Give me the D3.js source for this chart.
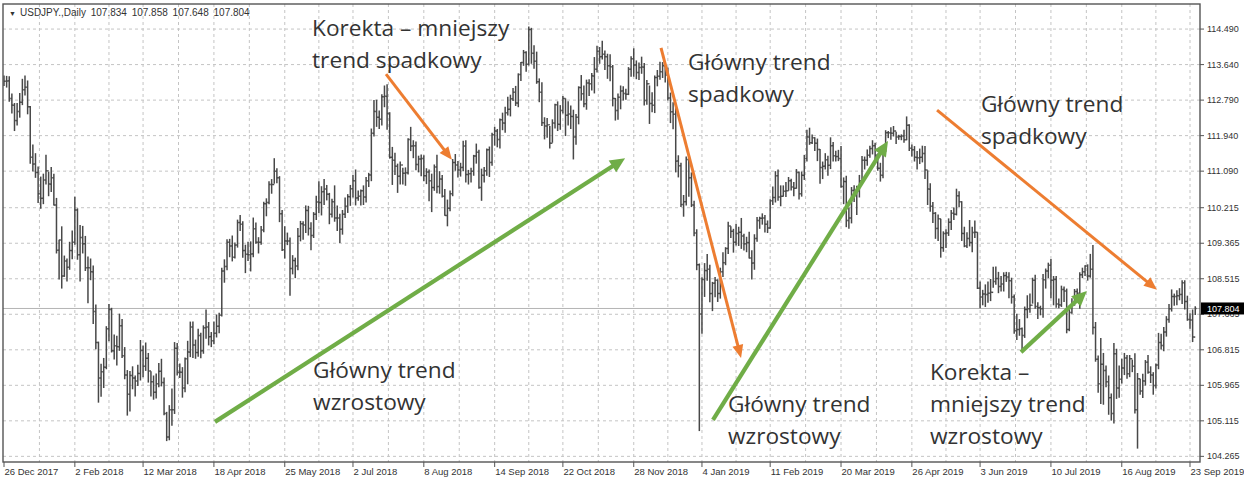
<!DOCTYPE html>
<html>
<head>
<meta charset="utf-8">
<script src="https://d3js.org/d3.v7.min.js"></script>
<style type="text/css">
  body { margin:0; background:#fff; }
  .axis text { font-family: "Liberation Sans", Arial, sans-serif; fill:#333; }
  .note { font-family: "Open Sans", sans-serif; font-size:22.7px; fill:#333; }
  .grid { stroke:#c4c4c4; stroke-width:1; stroke-dasharray:3,3; }
</style>
</head>
<body>
<svg id="visRegion" width="1244" height="485"></svg>
<script>
// USDJPY daily bars, 26 Dec 2017 .. 25 Sep 2019 (one value per bar)
var hi = [
  113.38,113.37,113.36,112.95,
  112.72,112.72,112.96,113.30,113.38,113.26,112.65,111.73,111.52,111.20,110.96,111.03,111.48,111.08,111.19,111.03,110.45,109.45,109.77,109.07,109.00,109.40,
  109.67,110.48,110.20,109.80,109.78,109.54,109.05,109.00,108.83,107.90,107.01,106.48,106.62,107.38,107.91,107.82,107.18,107.15,107.68,107.55,
  106.88,106.33,106.31,106.42,106.20,106.46,107.05,106.92,106.99,106.74,106.30,106.20,106.25,106.50,106.60,106.15,105.33,105.49,105.89,107.00,106.98,106.49,
  106.40,106.63,107.03,107.49,107.49,107.06,107.32,107.22,107.40,107.78,107.48,107.24,107.49,107.66,107.70,108.78,108.98,109.46,109.47,109.55,109.38,
  109.93,110.04,109.89,109.33,109.40,109.41,109.98,109.86,109.51,109.78,110.36,110.44,110.85,110.90,111.40,111.16,110.97,110.16,109.77,109.62,109.50,109.08,109.02,
  109.73,109.90,109.89,110.27,110.26,109.87,110.11,110.50,110.85,110.73,110.90,110.76,110.57,110.43,110.75,110.27,110.07,110.16,110.46,110.54,110.76,
  111.00,111.13,110.63,110.65,110.75,110.95,111.05,112.11,112.79,112.80,112.54,112.93,113.14,113.17,112.50,111.67,111.53,111.27,111.32,111.17,111.18,111.88,
  112.15,111.83,111.80,111.46,111.49,111.47,111.16,111.13,111.03,111.25,111.48,111.09,111.00,110.66,110.41,110.63,111.38,111.50,111.33,111.29,111.82,111.83,111.12,
  111.17,111.48,111.75,111.60,111.15,111.19,111.63,111.68,112.01,112.15,112.10,112.35,112.49,112.63,112.87,112.92,113.08,113.13,113.43,113.70,
  113.99,113.96,114.55,114.52,114.10,113.95,113.31,113.22,112.38,112.36,112.17,112.33,112.70,112.76,112.67,112.89,112.83,112.76,112.66,112.56,112.46,113.12,113.39,
  113.14,113.28,113.29,113.44,113.82,114.09,114.06,114.21,113.98,113.90,113.89,113.63,112.84,112.95,113.14,113.12,113.06,113.58,113.84,114.03,113.74,113.69,
  113.83,113.68,113.27,113.14,112.98,113.38,113.51,113.71,113.70,113.64,113.57,112.97,112.74,112.61,111.47,111.29,110.52,111.44,111.43,111.06,110.38,
  109.70,108.88,108.55,108.89,109.11,108.85,108.44,108.56,108.50,108.78,109.15,109.27,109.88,109.77,109.71,109.83,109.76,109.97,109.59,109.52,109.64,109.20,
  109.58,109.99,110.00,110.08,110.04,109.91,110.42,110.72,111.09,111.13,110.75,110.75,110.83,110.95,110.91,110.83,111.14,111.08,111.08,111.48,
  112.08,112.13,111.97,111.90,111.87,111.62,111.32,111.52,111.46,111.90,111.79,111.58,111.60,111.69,110.94,110.98,110.22,110.71,110.75,110.74,111.00,
  111.45,111.44,111.61,111.70,111.83,111.77,111.51,111.29,111.63,112.07,112.05,112.14,112.17,112.03,111.96,111.97,112.08,112.40,112.21,111.73,111.69,111.57,
  111.63,111.70,111.69,111.11,110.80,110.35,110.11,110.05,109.95,109.65,109.70,109.96,110.16,110.22,110.67,110.61,110.37,109.76,109.63,109.92,109.76,109.91,109.63,
  108.45,108.25,108.38,108.45,108.51,108.80,108.81,108.68,108.58,108.67,108.68,108.67,108.54,108.14,107.68,107.55,107.35,107.85,108.12,108.16,
  108.54,108.61,107.95,107.87,108.63,108.76,108.90,108.99,108.58,108.58,108.04,108.35,108.33,108.28,107.79,108.05,108.27,108.28,108.67,108.78,108.84,108.86,109.11,
  109.32,107.48,106.68,107.10,106.74,106.44,106.20,105.77,106.98,106.84,106.44,106.60,106.74,106.69,106.69,106.58,106.73,106.26,106.12,106.24,106.57,106.69,
  106.42,106.28,106.49,107.22,107.20,107.36,107.62,107.91,108.26,108.16,108.24,108.29,108.48,108.48,108.11,107.69,107.78,107.858
];
var lo = [
  113.13,113.09,112.75,112.47,
  112.05,112.18,112.37,112.67,112.90,112.45,111.27,111.08,110.93,110.33,110.19,110.30,110.77,110.49,110.59,110.27,109.12,108.50,108.28,108.56,108.45,108.73,
  108.98,109.33,108.97,108.45,109.12,108.70,107.93,108.48,107.43,106.83,105.55,105.69,105.90,106.35,107.02,106.75,106.58,106.44,106.79,106.62,
  106.11,105.24,105.34,105.87,105.70,105.95,106.08,106.16,106.31,106.03,105.70,105.62,105.65,105.92,105.94,105.25,104.63,104.65,105.00,105.28,106.20,106.14,
  105.67,105.80,105.99,106.64,106.62,106.60,106.65,106.61,106.72,107.08,106.92,106.88,106.95,107.11,107.21,107.61,108.42,108.72,109.03,108.93,109.00,
  109.26,109.66,109.02,108.65,108.94,108.69,109.03,109.35,109.12,109.33,109.63,110.01,110.30,110.55,110.79,110.80,109.87,109.18,109.00,109.32,108.11,108.62,108.53,
  108.72,109.41,109.45,109.61,109.55,109.20,109.49,109.92,110.08,110.03,110.28,110.39,109.82,109.98,109.88,109.66,109.37,109.57,109.97,110.09,110.26,
  110.46,110.27,110.38,110.27,110.28,110.34,110.71,110.85,111.92,112.15,112.10,112.18,112.62,112.08,111.39,110.76,111.00,110.57,110.77,110.77,110.74,111.01,
  111.57,111.40,111.11,111.06,110.97,110.85,110.78,110.37,110.11,110.62,110.56,110.55,110.46,110.02,109.77,110.13,110.49,111.10,110.94,110.96,111.09,110.82,110.77,
  110.82,110.98,111.27,110.67,110.38,110.82,110.98,110.95,111.22,111.70,111.66,111.63,112.07,112.01,112.42,112.40,112.77,112.65,112.62,113.25,
  113.61,113.47,113.62,113.66,113.54,113.18,112.74,112.17,111.85,111.89,111.63,111.77,112.11,112.05,112.08,112.47,111.93,112.18,112.10,111.37,111.72,112.21,112.78,
  112.62,112.56,112.89,113.02,112.95,113.45,113.66,113.76,113.51,113.30,113.24,112.64,112.30,112.32,112.57,112.78,112.80,112.91,113.35,113.35,113.29,113.27,
  113.42,112.66,112.68,112.22,112.50,112.48,113.12,113.28,113.32,113.21,112.78,112.24,112.09,111.06,110.94,110.23,110.00,110.27,110.48,110.23,109.53,
  108.72,104.87,107.20,108.08,108.47,107.95,107.74,108.07,107.96,108.04,108.56,108.84,109.11,109.49,109.14,109.31,109.30,109.23,109.19,109.15,109.00,108.50,
  108.73,109.40,109.71,109.81,109.62,109.61,109.71,110.28,110.34,110.38,110.25,110.48,110.47,110.62,110.63,110.49,110.67,110.41,110.48,110.88,
  111.32,111.72,111.74,111.57,111.33,110.79,110.90,111.13,110.98,111.14,111.32,111.32,111.33,110.69,110.30,109.75,109.71,109.84,110.35,110.04,110.46,
  110.84,111.13,111.22,111.41,111.49,111.38,111.10,110.84,110.92,111.55,111.88,111.84,111.92,111.74,111.84,111.83,111.77,111.83,111.57,111.44,111.32,111.13,
  111.26,111.30,110.90,110.28,110.12,109.85,109.47,109.42,109.02,109.16,109.25,109.54,109.68,109.92,110.03,110.23,109.42,109.27,109.25,109.29,109.15,109.49,108.27,
  107.81,107.88,107.84,107.94,107.98,108.30,108.37,108.17,108.21,108.21,108.44,108.05,107.92,107.20,107.05,107.15,106.78,107.10,107.57,107.70,
  107.92,107.80,107.55,107.64,107.58,108.28,108.53,108.05,107.88,107.82,107.81,107.84,107.96,107.21,107.26,107.68,107.87,107.96,107.80,108.53,108.58,108.47,108.54,
  107.18,106.53,105.79,105.52,105.50,105.92,105.26,105.12,105.05,105.64,105.67,106.01,106.21,106.12,106.16,106.28,105.29,104.45,105.74,105.66,105.96,106.24,
  106.02,105.74,105.89,106.35,106.82,106.78,107.13,107.46,107.73,107.87,107.88,108.00,107.91,107.78,107.51,107.32,107.00,107.648
];
var cl = [
  113.24,113.25,112.83,112.67,
  112.30,112.52,112.74,113.04,113.10,112.63,111.42,111.26,111.06,110.55,110.44,110.88,111.10,110.78,110.93,110.28,109.20,109.44,108.58,108.94,108.79,109.19,
  109.39,110.16,109.09,109.50,109.35,108.78,108.78,108.68,107.73,106.99,106.14,106.29,106.40,107.32,107.78,106.79,106.91,106.89,107.39,106.67,
  106.21,105.75,106.20,106.14,106.07,106.25,106.80,106.42,106.61,106.31,106.05,105.80,106.00,106.30,106.03,105.29,104.73,105.38,105.38,106.85,106.27,106.28,
  105.90,106.60,106.76,107.36,106.93,106.75,107.16,106.79,107.34,107.36,107.13,107.03,107.21,107.38,107.64,108.70,108.81,109.39,109.30,109.03,109.32,
  109.86,109.82,109.19,109.10,109.09,109.11,109.71,109.39,109.39,109.68,110.31,110.34,110.77,110.77,111.09,110.93,110.07,109.21,109.42,109.42,108.76,108.95,108.82,
  109.53,109.83,109.80,110.15,109.72,109.55,110.06,110.35,110.34,110.60,110.66,110.54,110.06,110.36,109.97,109.97,109.70,110.06,110.25,110.48,110.67,
  110.86,110.45,110.49,110.62,110.47,110.86,111.00,112.00,112.52,112.38,112.33,112.87,112.88,112.47,111.42,111.35,111.21,110.97,111.24,111.04,111.05,111.85,
  111.69,111.70,111.25,111.38,111.39,110.98,111.07,110.86,110.70,111.19,110.72,110.90,110.49,110.03,110.20,110.55,111.30,111.24,111.12,111.18,111.69,111.01,111.03,
  111.09,111.45,111.54,110.70,110.99,111.10,111.60,111.30,111.96,112.05,111.85,112.32,112.24,112.49,112.57,112.82,112.98,112.72,113.40,113.69,
  113.93,113.65,114.48,113.91,113.72,113.23,112.98,112.25,112.17,112.20,111.76,112.24,112.68,112.21,112.54,112.83,112.43,112.46,112.40,111.91,112.38,113.09,112.94,
  112.70,113.20,113.18,113.37,113.53,113.96,113.83,113.89,113.83,113.61,113.59,112.83,112.54,112.86,113.01,112.95,112.93,113.53,113.78,113.63,113.45,113.57,
  113.58,112.78,113.18,112.71,112.67,113.33,113.36,113.47,113.61,113.39,112.84,112.51,112.45,111.33,111.22,110.29,110.36,111.37,110.93,110.28,109.61,
  108.85,107.67,108.50,108.71,108.74,108.16,108.41,108.48,108.16,108.68,108.90,109.24,109.78,109.65,109.39,109.60,109.63,109.54,109.35,109.38,109.01,108.89,
  109.48,109.91,109.96,109.97,109.82,109.73,110.38,110.46,110.98,110.47,110.49,110.61,110.62,110.86,110.71,110.68,111.06,110.55,110.99,111.39,
  111.91,111.77,111.89,111.76,111.61,111.18,111.21,111.36,111.23,111.70,111.46,111.44,111.39,110.72,110.84,109.91,109.97,110.63,110.51,110.62,110.86,
  111.35,111.35,111.47,111.63,111.70,111.47,111.16,110.99,111.62,112.01,112.01,112.00,112.05,111.91,111.92,111.93,111.84,112.19,111.64,111.60,111.42,111.41,
  111.42,111.51,111.12,110.66,110.25,110.08,109.72,109.95,109.26,109.60,109.61,109.87,110.08,110.06,110.50,110.36,109.60,109.30,109.48,109.38,109.62,109.63,108.29,
  108.08,108.15,108.14,108.17,108.19,108.45,108.52,108.33,108.39,108.59,108.56,108.47,108.08,107.27,107.30,107.32,107.16,107.78,107.80,107.88,
  108.48,107.85,107.82,107.80,108.49,108.70,108.84,108.48,108.50,107.91,107.89,108.26,108.22,107.30,107.71,107.93,108.21,108.17,108.61,108.68,108.82,108.58,108.74,
  107.35,106.59,106.00,106.47,106.32,106.05,105.67,105.29,106.72,105.90,106.11,106.38,106.62,106.24,106.60,106.42,105.38,106.12,105.83,106.07,106.52,106.28,
  106.21,105.96,106.45,106.99,106.92,107.24,107.54,107.80,108.09,108.09,108.11,108.14,108.42,107.97,107.54,107.53,107.12,107.804
];

// price scale labels (right) and time labels (bottom, bar index)
var priceTicks = [114.490,113.640,112.790,111.940,111.090,110.215,109.365,108.515,107.665,106.815,105.965,105.115,104.265];
var dateLabels = ["26 Dec 2017","2 Feb 2018","12 Mar 2018","18 Apr 2018","25 May 2018","2 Jul 2018","8 Aug 2018","14 Sep 2018","22 Oct 2018",
                  "28 Nov 2018","4 Jan 2019","11 Feb 2019","20 Mar 2019","26 Apr 2019","3 Jun 2019","10 Jul 2019","16 Aug 2019","23 Sep 2019"];
var dateIdx = [0,27,53,80,107,133,160,187,213,240,266,292,319,346,372,399,426,452];
var lastPrice = 107.804;
var header = "USDJPY.,Daily  107.834 107.858 107.648 107.804";

// trend arrows: [bar index, price] start -> end
var orangeFrom = [[145.6,113.41],[250.4,114.04],[355.6,112.55]];
var orangeTo   = [[170.7,111.36],[280.9,106.62],[439.4,108.25]];
var greenFrom  = [[80.4,105.09],[270.2,105.14],[387.6,106.76]];
var greenTo    = [[236.7,111.40],[336.9,111.81],[412.7,108.22]];

// text notes: anchor [bar index, price] of first line
var noteAt = [[117.4,114.32],[260.7,113.51],[372.3,112.50],[117.8,106.14],[275.9,105.33],[352.9,106.09]];
var noteLines = [
  ["Korekta – mniejszy","trend spadkowy"],
  ["Główny trend","spadkowy"],
  ["Główny trend","spadkowy"],
  ["Główny trend","wzrostowy"],
  ["Główny trend","wzrostowy"],
  ["Korekta –","mniejszy trend","wzrostowy"]
];

//layout
var plot = {left:3, top:4, right:1200, bottom:462};
var svg = d3.select('#visRegion');
svg.append('rect').attr('width',1244).attr('height',485).attr('fill','#fff');

var x = d3.scaleLinear().domain([0,452]).range([4,1190]);
var y = d3.scaleLinear().domain([104.13,115.09]).range([plot.bottom,plot.top]);

//grid
var grid = svg.append('g');
grid.selectAll('line.h').data(priceTicks).enter().append('line')
    .attr('class','grid')
    .attr('x1',plot.left).attr('x2',plot.right)
    .attr('y1',function(d){return y(d);}).attr('y2',function(d){return y(d);});
var vgrid = [];
dateIdx.forEach(function(d,i){
    vgrid.push(d);
    if(i < dateIdx.length-1) vgrid.push((d+dateIdx[i+1])/2);
});
grid.selectAll('line.v').data(vgrid.slice(1)).enter().append('line')
    .attr('class','grid')
    .attr('y1',plot.top).attr('y2',plot.bottom)
    .attr('x1',function(d){return x(d);}).attr('x2',function(d){return x(d);});

//current price line
svg.append('line')
    .attr('x1',plot.left).attr('x2',plot.right)
    .attr('y1',y(lastPrice)).attr('y2',y(lastPrice))
    .attr('stroke','#b4b4b4').attr('stroke-width',1);

//bars
var bars = svg.append('g').attr('stroke','#484848').attr('stroke-width',1.5);
var idx = d3.range(hi.length);
bars.selectAll('line.hl').data(idx).enter().append('line')
    .attr('x1',function(i){return x(i);}).attr('x2',function(i){return x(i);})
    .attr('y1',function(i){return y(hi[i]);}).attr('y2',function(i){return y(lo[i]);});
bars.selectAll('line.op').data(idx.slice(1)).enter().append('line')
    .attr('x1',function(i){return x(i)-1.3;}).attr('x2',function(i){return x(i);})
    .attr('y1',function(i){return y(cl[i-1]);}).attr('y2',function(i){return y(cl[i-1]);});
bars.selectAll('line.cl').data(idx).enter().append('line')
    .attr('x1',function(i){return x(i);}).attr('x2',function(i){return x(i)+1.3;})
    .attr('y1',function(i){return y(cl[i]);}).attr('y2',function(i){return y(cl[i]);});

//frame
svg.append('rect')
    .attr('x',plot.left).attr('y',plot.top)
    .attr('width',plot.right-plot.left).attr('height',plot.bottom-plot.top)
    .attr('fill','none').attr('stroke','#555').attr('stroke-width',1.4);

//right price axis
var ax = svg.append('g').attr('class','axis');
ax.selectAll('line.t').data(priceTicks).enter().append('line')
    .attr('x1',plot.right).attr('x2',plot.right+4)
    .attr('y1',function(d){return y(d);}).attr('y2',function(d){return y(d);})
    .attr('stroke','#555');
ax.selectAll('text.p').data(priceTicks).enter().append('text')
    .attr('x',plot.right+7).attr('y',function(d){return y(d)+3;})
    .style('font-size','9px')
    .text(d3.format('.3f'));
ax.append('rect')
    .attr('x',plot.right+1).attr('y',y(lastPrice)-6)
    .attr('width',1244-plot.right).attr('height',12).attr('fill','#000');
ax.append('text')
    .attr('x',plot.right+7).attr('y',y(lastPrice)+3.5)
    .style('font-size','9px').style('fill','#fff')
    .text(d3.format('.3f')(lastPrice));

//bottom time axis
ax.selectAll('line.d').data(dateIdx).enter().append('line')
    .attr('x1',function(d){return x(d);}).attr('x2',function(d){return x(d);})
    .attr('y1',plot.bottom).attr('y2',plot.bottom+5)
    .attr('stroke','#555');
ax.selectAll('text.d').data(dateIdx).enter().append('text')
    .attr('x',function(d){return x(d)+0.5;}).attr('y',475)
    .style('font-size','9.5px')
    .text(function(d,i){return dateLabels[i];});

//header
ax.append('text').attr('x',9).attr('y',16).style('font-size','7px').text('▼');
ax.append('text').attr('x',20).attr('y',16).style('font-size','10px')
    .style('word-spacing','2px').text(header);

//arrows
function arrow(g, a, b, color, w, len, half){
    var x0 = x(a[0]), y0 = y(a[1]), x1 = x(b[0]), y1 = y(b[1]);
    var dx = x1-x0, dy = y1-y0, L = Math.sqrt(dx*dx+dy*dy);
    var ux = dx/L, uy = dy/L;
    var bx = x1-ux*len, by = y1-uy*len;
    g.append('line')
        .attr('x1',x0).attr('y1',y0)
        .attr('x2',x1-ux*len*0.6).attr('y2',y1-uy*len*0.6)
        .attr('stroke',color).attr('stroke-width',w);
    g.append('polygon')
        .attr('points',[[x1,y1],[bx-uy*half,by+ux*half],[bx+uy*half,by-ux*half]].join(' '))
        .attr('fill',color);
}
var arrows = svg.append('g');
orangeFrom.forEach(function(d,i){ arrow(arrows, d, orangeTo[i], '#ed7d31', 3, 13, 5.5); });
greenFrom.forEach(function(d,i){ arrow(arrows, d, greenTo[i], '#70ad47', 4.2, 15, 7); });

//notes
var notes = svg.append('g');
noteAt.forEach(function(d,i){
    var t = notes.append('text').attr('class','note')
        .attr('x',x(d[0])).attr('y',y(d[1]));
    noteLines[i].forEach(function(s,k){
        t.append('tspan').attr('x',x(d[0])).attr('dy',k==0?0:32).text(s);
    });
});
</script>
</body>
</html>
